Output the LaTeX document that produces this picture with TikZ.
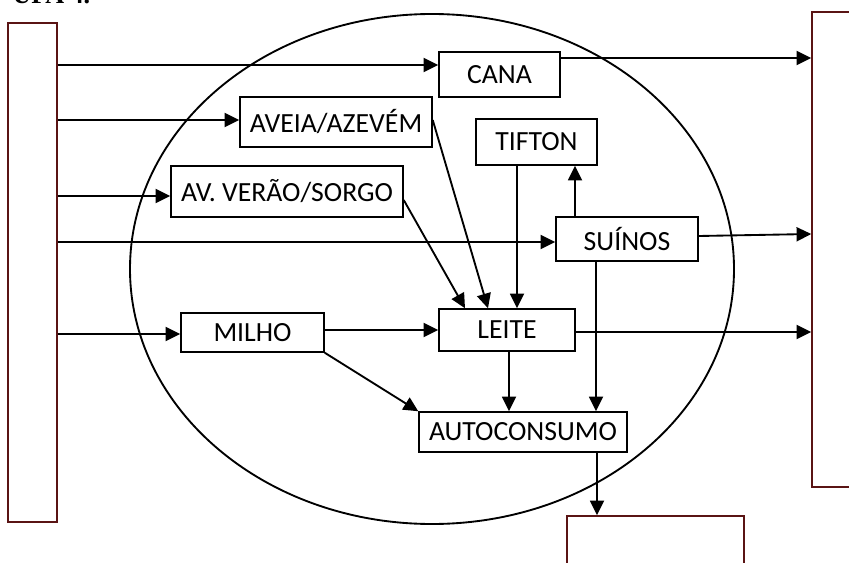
\documentclass[tikz,border=0pt]{standalone}
\usepackage{fontspec}
\setmainfont{Carlito}
\newfontfamily\titulofonte{Liberation Serif}
\usetikzlibrary{positioning,calc}
\usetikzlibrary{arrows.meta}
\definecolor{BordoEscuro}{RGB}{90,20,20}
\tikzset{
  bloco/.style={draw=black,fill=white,line width=1.1pt,inner sep=0pt,font=\fontsize{20.8}{24}\selectfont},
  lateral/.style={draw=BordoEscuro,fill=white,line width=1.1pt,inner sep=0pt},
  fluxo/.style={draw=black,line width=1.4pt,-{Triangle[length=11pt,width=10.5pt]}},
  anel/.style={draw=black,line width=1.4pt},
}

\begin{document}
\begin{tikzpicture}[x=0.75pt,y=-0.75pt]
\clip (0,0) rectangle (849,563);
\node[anchor=base west,font=\titulofonte\bfseries\fontsize{19.5}{23}\selectfont] (titulo) at (8,4) {UPA 4.};
\draw[anel] (432,269) ellipse [x radius=302,y radius=255];
\node[lateral,minimum width=36.75pt,minimum height=374.25pt] (ent) at (32.5,272.5) {};
\node[lateral,minimum width=51pt,minimum height=356.25pt] (sai) at (846,249.5) {};
\node[lateral,minimum width=132.75pt,minimum height=63pt] (cons) at (655.5,558) {};
\node[bloco,minimum width=90.75pt,minimum height=33.75pt] (cana) at (499.5,74.5) {CANA};
\node[bloco,minimum width=144pt,minimum height=37.5pt] (aveia) at (336,122) {AVEIA/AZEVÉM};
\node[bloco,minimum width=174pt,minimum height=38.25pt] (verao) at (287,191.5) {AV. VERÃO/SORGO};
\node[bloco,minimum width=90.75pt,minimum height=34.5pt] (tifton) at (536.5,142) {TIFTON};
\node[bloco,minimum width=106.5pt,minimum height=33pt] (suinos) at (627,239) {SUÍNOS};
\node[bloco,minimum width=107.25pt,minimum height=29.25pt] (milho) at (252.5,332.5) {MILHO};
\node[bloco,minimum width=102pt,minimum height=31.5pt] (leite) at (507,330) {LEITE};
\node[bloco,minimum width=156pt,minimum height=30pt] (auto) at (523,432) {AUTOCONSUMO};
\draw[fluxo] (ent.east |- 0,65) -- (cana.west |- 0,65);
\draw[fluxo] (cana.east |- 0,58) -- (sai.west |- 0,58);
\draw[fluxo] (ent.east |- 0,120) -- (aveia.west |- 0,120);
\draw[fluxo] (ent.east |- 0,196) -- (verao.west |- 0,196);
\draw[fluxo] (ent.east |- 0,242) -- (suinos.west |- 0,242);
\draw[fluxo] (ent.east |- 0,334) -- (milho.west |- 0,334);
\draw[fluxo] (milho.east |- 0,330) -- (leite.west |- 0,330);
\draw[fluxo] (milho.south east) -- (auto.north west);
\draw[fluxo] (leite.east |- 0,332) -- (sai.west |- 0,332);
\draw[fluxo] (leite.south -| 509,0) -- (auto.north -| 509,0);
\draw[fluxo] (suinos.south -| 596,0) -- (auto.north -| 596,0);
\draw[fluxo] (suinos.north -| 575,0) -- (tifton.south -| 575,0);
\draw[fluxo] (suinos.east |- 0,236) -- (sai.west |- 0,234);
\draw[fluxo] (tifton.south -| 517,0) -- (leite.north -| 517,0);
\draw[fluxo] (aveia.east |- 0,120) -- (leite.north -| 488,0);
\draw[fluxo] (verao.east |- 0,200) -- (leite.north -| 465,0);
\draw[fluxo] (auto.south -| 597,0) -- (cons.north -| 597,0);
\end{tikzpicture}
\end{document}
